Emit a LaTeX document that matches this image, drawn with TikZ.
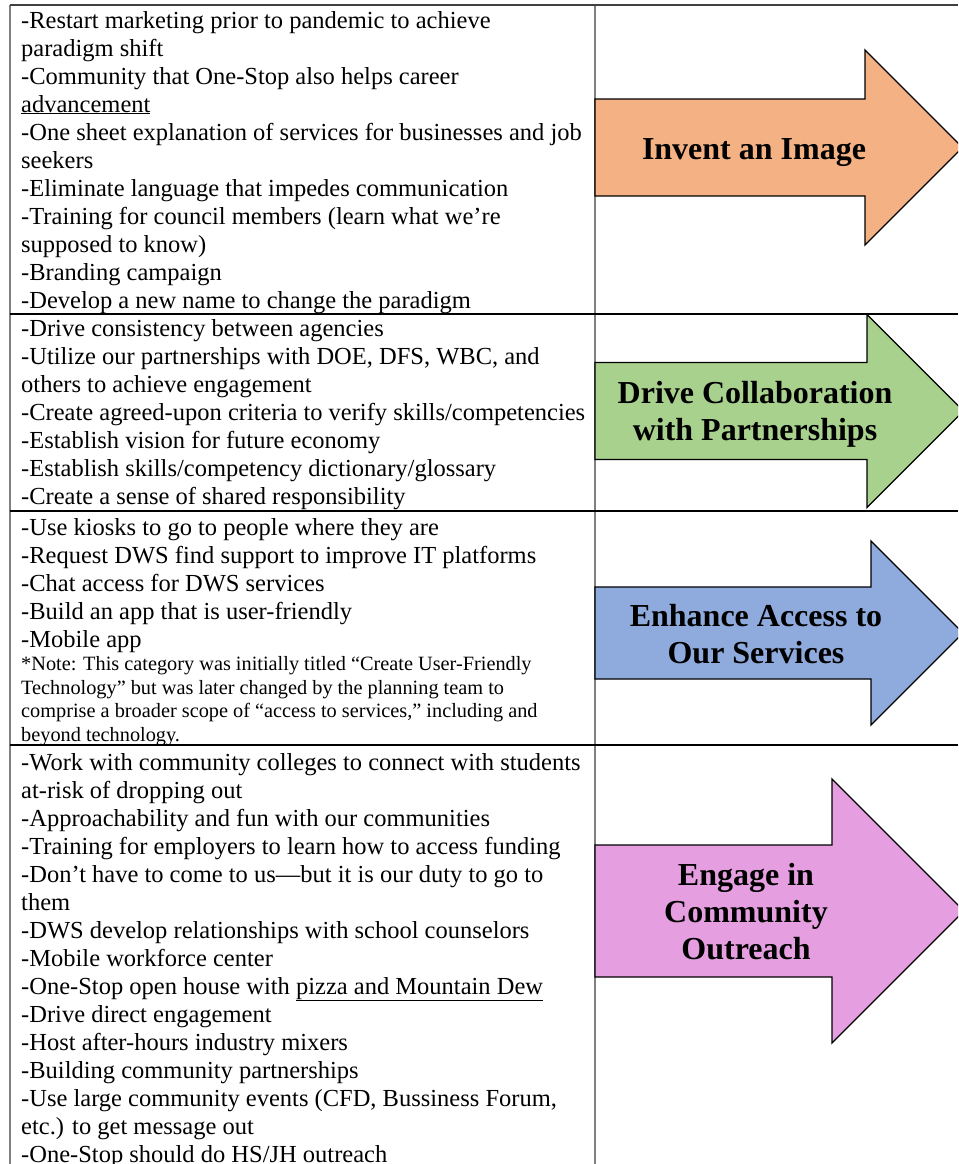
\documentclass[tikz,border=0pt]{standalone}
\usepackage{fontspec}
\setmainfont{Liberation Serif}

\definecolor{imageorange}{RGB}{244,177,131}
\definecolor{partnergreen}{RGB}{169,209,142}
\definecolor{accessblue}{RGB}{143,170,220}
\definecolor{outreachpink}{RGB}{229,158,224}

\tikzset{
  itemtext/.style={anchor=base west, inner sep=0pt, align=left,
    font=\fontsize{24.5}{28}\selectfont},
  notetext/.style={anchor=base west, inner sep=0pt, align=left,
    font=\fontsize{20.3}{23.4}\selectfont},
  goaltext/.style={inner sep=0pt, align=center,
    font=\fontsize{32}{37}\selectfont\bfseries},
  rule/.style={line width=1.3pt},
  greyrule/.style={draw=gray, line width=2pt}
}

% #1 fill, #2 centre y, #3 half body, #4 half head, #5 x of head
\newcommand{\goalarrow}[5]{%
  \filldraw[fill=#1, draw=black, line width=1.3pt, line join=miter]
    (595,#2-#3) -- (#5,#2-#3) -- (#5,#2-#4) -- (#5+#4,#2)
    -- (#5,#2+#4) -- (#5,#2+#3) -- (595,#2+#3) -- cycle;}

\begin{document}
\begin{tikzpicture}[x=1pt, y=-1pt]
    \clip (0,0) rectangle (958,1164);
    \useasboundingbox (0,0) rectangle (958,1164);

    % table
    \draw[greyrule] (10,5) -- (10,1164);
    \draw[greyrule] (595,5) -- (595,1164);
    \draw[rule, draw=black!75] (10,5) -- (958,5);
    \foreach \y in {314,511,745}
      \draw[rule] (10,\y) -- (958,\y);

    % left column (nodes sit on the baseline of their last line)
    \node[itemtext] (imagelist) at (21,308) {-Restart marketing prior to pandemic to achieve\\
      paradigm shift\\
      -Community that One-Stop also helps career\\
      \underline{advancement}\\
      -One sheet explanation of services for businesses and job\\
      seekers\\
      -Eliminate language that impedes communication\\
      -Training for council members (learn what we’re\\
      supposed to know)\\
      -Branding campaign\\
      -Develop a new name to change the paradigm};

    \node[itemtext] (partnerlist) at (21,504) {-Drive consistency between agencies\\
      -Utilize our partnerships with DOE, DFS, WBC, and\\
      others to achieve engagement\\
      -Create agreed-upon criteria to verify skills/competencies\\
      -Establish vision for future economy\\
      -Establish skills/competency dictionary/glossary\\
      -Create a sense of shared responsibility};

    \node[itemtext] (accesslist) at (21,647) {-Use kiosks to go to people where they are\\
      -Request DWS find support to improve IT platforms\\
      -Chat access for DWS services\\
      -Build an app that is user-friendly\\
      -Mobile app};
    \node[notetext] (accessnote) at (21,741) {*Note: This category was initially titled “Create User-Friendly\\
      Technology” but was later changed by the planning team to\\
      comprise a broader scope of “access to services,” including and\\
      beyond technology.};

    \node[itemtext] (outreachlist) at (21,1162) {-Work with community colleges to connect with students\\
      at-risk of dropping out\\
      -Approachability and fun with our communities\\
      -Training for employers to learn how to access funding\\
      -Don’t have to come to us—but it is our duty to go to\\
      them\\
      -DWS develop relationships with school counselors\\
      -Mobile workforce center\\
      -One-Stop open house with \underline{pizza and Mountain Dew}\\
      -Drive direct engagement\\
      -Host after-hours industry mixers\\
      -Building community partnerships\\
      -Use large community events (CFD, Bussiness Forum,\\
      etc.) to get message out\\
      -One-Stop should do HS/JH outreach};

    % right column
    \goalarrow{imageorange}{147.5}{48.5}{97.5}{865}
    \goalarrow{partnergreen}{411}{48.5}{96.5}{867}
    \goalarrow{accessblue}{633}{46}{92}{871}
    \goalarrow{outreachpink}{911}{66}{132}{832}

    \node[goaltext] (invent) at (754,153) {Invent an Image};
    \node[goaltext] (drive) at (755,414) {Drive Collaboration\\with Partnerships};
    \node[goaltext] (enhance) at (756,634) {Enhance Access to\\Our Services};
    \node[goaltext] (engage) at (746,912) {Engage in\\Community\\Outreach};
\end{tikzpicture}
\end{document}
